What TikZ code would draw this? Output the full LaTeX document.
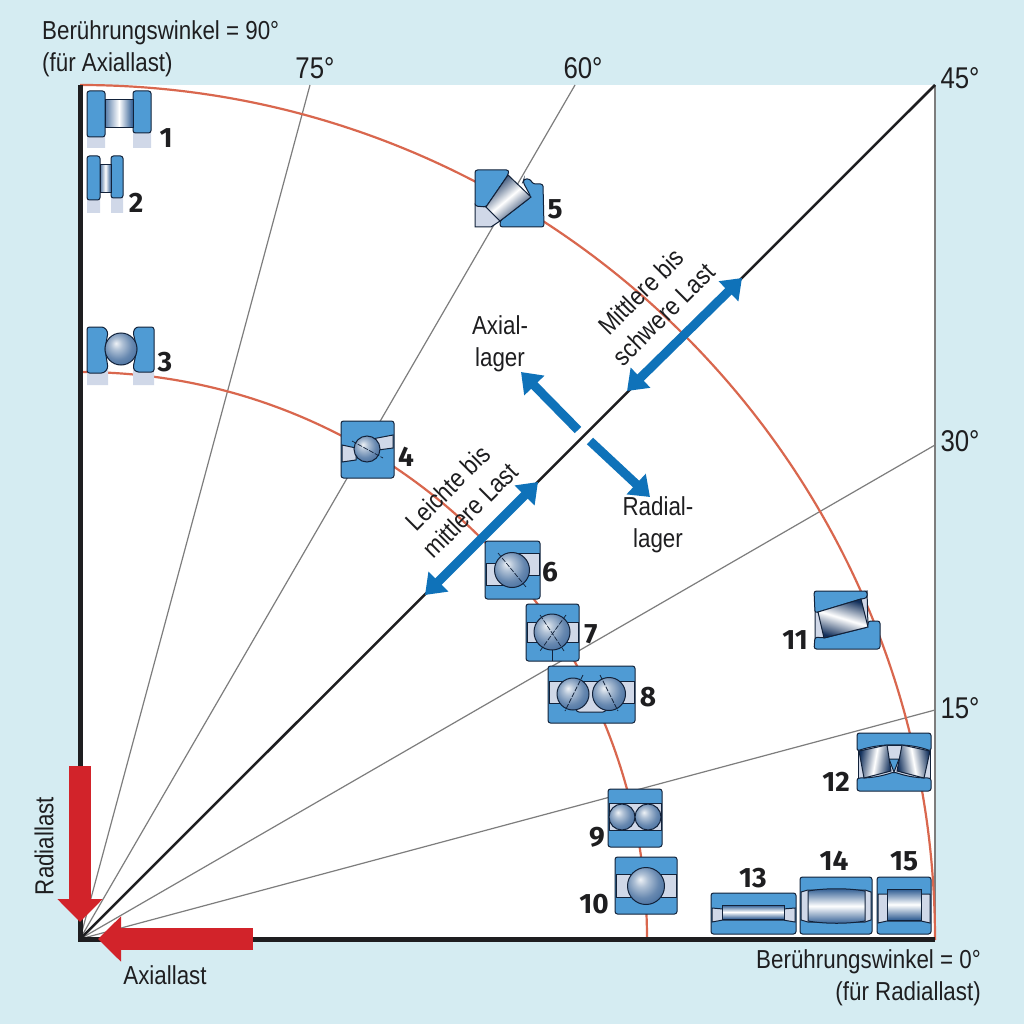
\documentclass[tikz,border=0pt]{standalone}
\usepackage{fontspec}
\setmainfont[FakeStretch=0.86]{Liberation Sans}
\newfontfamily\nrfont{Fira Sans}
\usetikzlibrary{arrows.meta}
\definecolor{backcyan}{RGB}{213,236,242}
\definecolor{arcred}{RGB}{217,103,78}
\definecolor{raygray}{RGB}{125,125,125}
\definecolor{axisblack}{RGB}{30,30,32}
\definecolor{loadred}{RGB}{210,35,42}
\definecolor{typeblue}{RGB}{15,114,185}
\definecolor{ringblue}{RGB}{79,155,212}
\definecolor{cagegray}{RGB}{208,216,232}
\definecolor{lagerline}{RGB}{18,34,58}
\definecolor{rolldark}{RGB}{44,90,145}
\definecolor{rolldeep}{RGB}{18,48,92}
\pgfdeclareradialshading{ballshade}{\pgfpoint{-8bp}{9bp}}{%
  color(0bp)=(rolldark!8); color(9bp)=(rolldark!38); color(22bp)=(rolldark!72); color(42bp)=(rolldark); color(60bp)=(rolldeep)}
\tikzset{
  ringpart/.style={fill=ringblue, draw=lagerline, line width=1, rounded corners=2.5},
  cagepart/.style={fill=cagegray, draw=lagerline, line width=1},
  cagefree/.style={fill=cagegray},
  ballpart/.style={shading=ballshade, draw=lagerline, line width=1},
  rollerh/.style={top color=rolldark, bottom color=rolldark, middle color=white, draw=lagerline, line width=1},
  rollerv/.style={left color=rolldark!80, right color=rolldark, middle color=white, draw=lagerline, line width=1},
  rollertilt/.style={top color=rolldeep, bottom color=rolldeep, middle color=white, shading angle=#1, draw=lagerline, line width=1},
  ballaxis/.style={draw=lagerline, line width=0.7, dash pattern=on 5pt off 1.5pt},
  nr/.style={font=\nrfont\bfseries\fontsize{28}{28}\selectfont, text=axisblack, inner sep=0},
  lbl/.style={font=\fontsize{26}{32}\selectfont, text=axisblack, inner sep=0},
  anglelbl/.style={font=\fontsize{30}{30}\selectfont, text=axisblack, inner sep=0},
  typearrow/.style={line width=9, draw=typeblue, -{Triangle[length=19,width=27]}},
  typearrows/.style={line width=9, draw=typeblue, {Triangle[length=19,width=27]}-{Triangle[length=19,width=27]}},
  loadarrow/.style={line width=22, draw=loadred, -{Triangle[length=23,width=44]}}
}
\begin{document}
\begin{tikzpicture}[x=1pt, y=-1pt]
  \useasboundingbox [fill=backcyan] (0,0) rectangle (1024,1024);
  \fill [white] (80,85) rectangle (935,939);

  \coordinate (origin) at (80,939);
  \coordinate (top) at (80,85);
  \coordinate (corner) at (935,939);
  \coordinate (ray75) at (310,85);
  \coordinate (ray60) at (575,85);
  \coordinate (ray45) at (935,85);
  \coordinate (ray30) at (935,445);
  \coordinate (ray15) at (935,710);

  \draw [raygray, line width=1.2] (origin) -- (ray75);
  \draw [raygray, line width=1.2] (origin) -- (ray60);
  \draw [raygray, line width=1.2] (origin) -- (ray30);
  \draw [raygray, line width=1.2] (origin) -- (ray15);
  \draw [raygray, line width=1.2] (ray45) -- (corner);

  % arcs of load capacity
  \draw [arcred, line width=2.2] (top) arc [start angle=90, end angle=0, radius=855pt];
  \draw [arcred, line width=2.2] (80,372) arc [start angle=90, end angle=0, radius=567pt];

  \draw [axisblack, line width=2.5] (origin) -- (ray45);
  \draw [axisblack, line width=5] (top) -- (origin) -- (corner);

  \node [lbl, anchor=west, align=left] (angle90) at (42,49) {Berührungswinkel = 90°\\(für Axiallast)};
  \node [lbl, anchor=east, align=right] (angle0) at (981,978) {Berührungswinkel = 0°\\(für Radiallast)};
  \node [anglelbl] (angle75) at (315,68) {75°};
  \node [anglelbl] (angle60) at (583,68) {60°};
  \node [anglelbl] (angle45) at (960,78) {45°};
  \node [anglelbl] (angle30) at (960,441) {30°};
  \node [anglelbl] (angle15) at (960,708) {15°};

  % load arrows
  \coordinate (radialstart) at (80,766);
  \coordinate (radialtip) at (80,922);
  \coordinate (axialstart) at (253,939);
  \coordinate (axialtip) at (98,939);
  \draw [loadarrow] (radialstart) -- (radialtip);
  \draw [loadarrow] (axialstart) -- (axialtip);
  \node [lbl, rotate=90] (radiallast) at (44,846) {Radiallast};
  \node [lbl] (axiallast) at (165,975) {Axiallast};

  % bearing type arrows
  \coordinate (leichtea) at (425,595);
  \coordinate (leichteb) at (538,482);
  \coordinate (mittlerea) at (627,391);
  \coordinate (mittlereb) at (742,278);
  \coordinate (axialfoot) at (578,430);
  \coordinate (axialhead) at (521,372);
  \coordinate (radialfoot) at (590,441);
  \coordinate (radialhead) at (650,497);
  \draw [typearrows] (leichtea) -- (leichteb);
  \draw [typearrows] (mittlerea) -- (mittlereb);
  \draw [typearrow] (axialfoot) -- (axialhead);
  \draw [typearrow] (radialfoot) -- (radialhead);
  \node [lbl, rotate=45, align=center] (leichte) at (459,499) {Leichte bis\\mittlere Last};
  \node [lbl, rotate=45, align=center] (mittlere) at (652,303) {Mittlere bis\\schwere Last};
  \node [lbl, align=center] (axiallager) at (500,344) {Axial-\\lager};
  \node [lbl, align=center] (radiallager) at (658,525) {Radial-\\lager};

  % 1
  \fill [cagefree] (87,130) rectangle (105,148) (133,130) rectangle (151,148);
  \draw [ringpart] (87,137) -- (87,91) -- (105,91) -- (105,137) -- cycle;
  \draw [ringpart] (133,133) -- (133,91) -- (151,91) -- (151,133) -- cycle;
  \draw [rollerv] (105,100) rectangle (133,128);
  \node [nr] (nr1) at (166,138) {1};
  % 2
  \fill [cagefree] (87,195) rectangle (100,213) (111,195) rectangle (123,213);
  \draw [ringpart] (87,200) -- (87,156) -- (100,156) -- (100,200) -- cycle;
  \draw [ringpart] (111,198) -- (111,156) -- (123,156) -- (123,198) -- cycle;
  \draw [rollerv] (100,165) rectangle (111,193);
  \node [nr] (nr2) at (136,203) {2};
  % 3
  \fill [cagefree] (87,368) rectangle (108,385) (133,368) rectangle (154,385);
  \draw [ringpart] (87,373) -- (87,327) -- (104,327) -- (108,332) -- (105,349) -- (108,368) -- (104,373) -- cycle;
  \draw [ringpart] (136,372) -- (133,368) -- (137,349) -- (133,332) -- (136,327) -- (154,327) -- (154,372) -- cycle;
  \draw [ballpart] (121,349) circle [radius=16pt];
  \node [nr] (nr3) at (165,362) {3};
  % 4
  \draw [ringpart] (341,421) rectangle (394,478);
  \draw [cagepart] (342,445) -- (356,448) -- (356,460) -- (342,462) -- cycle;
  \draw [cagepart] (372,439) -- (393,435) -- (393,448) -- (378,450) -- cycle;
  \draw [ballpart] (367,449) circle [radius=13pt];
  \draw [ballaxis] (352,441) -- (383,458);
  \node [nr] (nr4) at (406,457) {4};
  % 5
  \draw [cagepart] (475,204) -- (486,207) -- (500,221) -- (491,227) -- (475,227) -- cycle;
  \draw [ringpart] (475,206) -- (475,170) -- (509,170) -- (508,175) -- (486,207) -- cycle;
  \draw [ringpart] (531,197) -- (523,182) -- (524,179) -- (530,179) -- (533,184) -- (543,184) -- (544,227) -- (500,227) -- (500,221) -- cycle;
  \draw [rollertilt=40] (508,175) -- (531,197) -- (500,221) -- (486,207) -- cycle;
  \node [nr] (nr5) at (555,209) {5};
  % 6
  \draw [ringpart] (485,541) rectangle (540,599);
  \draw [cagepart] (486,563) rectangle (512,585);
  \draw [cagepart] (512,553) rectangle (539,575);
  \draw [ballpart] (512,570) circle [radius=17.5pt];
  \draw [ballaxis] (498,553) -- (526,587);
  \node [nr] (nr6) at (550,572) {6};
  % 7
  \draw [ringpart] (526,604) rectangle (579,661);
  \draw [cagepart] (527,622) rectangle (578,642);
  \draw [lagerline, line width=1] (552,650) -- (552,661);
  \draw [ballpart] (552,632) circle [radius=18pt];
  \draw [ballaxis] (540,615) -- (564,651);
  \draw [ballaxis] (566,615) -- (540,651);
  \node [nr] (nr7) at (591,634) {7};
  % 8
  \draw [ringpart] (548,666) rectangle (635,723);
  \draw [cagepart] (549,681) rectangle (634,703);
  \draw [cagepart, rounded corners=3] (576,703) -- (576,712) -- (606,712) -- (606,703);
  \draw [ballpart] (573,694) circle [radius=16pt];
  \draw [ballpart] (609,694) circle [radius=16.5pt];
  \draw [ballaxis] (583,675) -- (565,711);
  \draw [ballaxis] (600,675) -- (618,711);
  \node [nr] (nr8) at (648,697) {8};
  % 9
  \draw [ringpart] (608,789) rectangle (662,847);
  \draw [cagepart] (609,803) rectangle (661,830);
  \draw [ballpart] (622,817) circle [radius=13pt];
  \draw [ballpart] (648,817) circle [radius=13pt];
  \node [nr] (nr9) at (597,837) {9};
  % 10
  \draw [ringpart] (615,857) rectangle (677,914);
  \draw [cagepart] (616,874) rectangle (676,897);
  \draw [ballpart] (646,886) circle [radius=18.5pt];
  \node [nr] (nr10) at (594,904) {10};
  % 11
  \draw [cagepart] (815,600) -- (867,591) -- (868,627) -- (824,640) -- (815,640) -- cycle;
  \draw [ringpart] (815,613) -- (814,591) -- (867,591) -- (867,598) -- (861,599) -- cycle;
  \draw [ringpart] (814,649) -- (815,637) -- (824,638) -- (868,627) -- (868,621) -- (880,621) -- (880,649) -- cycle;
  \draw [rollertilt=-17] (818,612) -- (861,599) -- (868,627) -- (824,638) -- cycle;
  \node [nr] (nr11) at (795,640) {11};
  % 12
  \draw [cagepart] (858,745) rectangle (930,780);
  \draw [ringpart] (857,751) -- (857,733) -- (931,733) -- (931,751) .. controls (910,743) and (880,743) .. (857,751) -- cycle;
  \draw [ringpart] (857,791) -- (857,778) .. controls (875,778) and (885,775) .. (894,772) .. controls (903,775) and (913,778) .. (931,778) -- (931,791) -- cycle;
  \draw [fill=ringblue, draw=lagerline, line width=1] (889,759) -- (899,759) -- (894,772) -- cycle;
  \draw [rollertilt=80] (859,751) -- (887,745) -- (891,771) -- (864,778) -- cycle;
  \draw [rollertilt=-80] (902,745) -- (930,751) -- (924,778) -- (897,771) -- cycle;
  \node [nr] (nr12) at (836,782) {12};
  % 13
  \draw [ringpart] (711,893) rectangle (796,934);
  \draw [cagepart] (712,908) -- (723,909) -- (783,909) -- (795,908) -- (795,922) -- (783,920) -- (723,920) -- (712,922) -- cycle;
  \draw [rollerh] (722,905) rectangle (784,919);
  \node [nr] (nr13) at (753,878) {13};
  % 14
  \draw [ringpart] (800,877) rectangle (872,934);
  \draw [cagepart] (801,892) -- (808,890) -- (865,890) -- (871,892) -- (871,920) -- (865,922) -- (808,922) -- (801,920) -- cycle;
  \draw [rollerh] (808,891) .. controls (825,888) and (848,888) .. (865,891) -- (865,921) .. controls (848,924) and (825,924) .. (808,921) -- cycle;
  \node [nr] (nr14) at (834,861) {14};
  % 15
  \draw [ringpart] (877,877) rectangle (931,934);
  \draw [cagepart] (878,894) -- (887,894) -- (921,894) -- (930,894) -- (930,923) -- (921,921) -- (887,921) -- (878,923) -- cycle;
  \draw [rollerh] (887,889) rectangle (921,920);
  \node [nr] (nr15) at (904,861) {15};
\end{tikzpicture}
\end{document}
